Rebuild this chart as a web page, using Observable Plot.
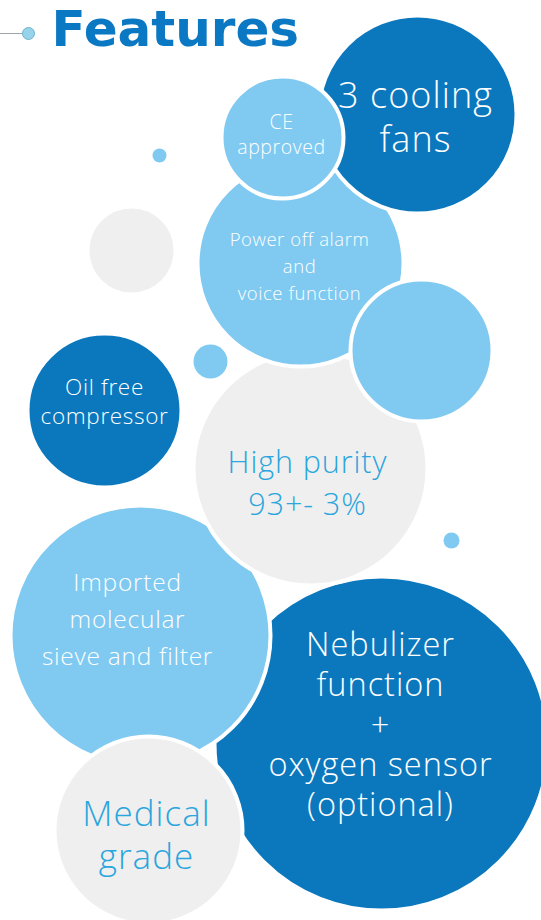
<!DOCTYPE html>
<html>
<head>
<meta charset="utf-8">
<script src="https://cdn.jsdelivr.net/npm/d3@7"></script>
<script src="https://cdn.jsdelivr.net/npm/@observablehq/plot@0.6"></script>
<style>
  html, body { margin: 0; padding: 0; background: #ffffff; }
  #chart svg { display: block; }
  #chart svg text { letter-spacing: 0.03em; }
  #chart svg g[font-family*="DejaVu"] text { letter-spacing: 0; }
</style>
</head>
<body>
<div id="chart"></div>
<script>
// ---- Data ----
const titleText = "Features";

// bubbles, in drawing order
const bubbleNames = ["grayLeft", "highPurity", "power", "cooling", "ce", "lightRight", "dotTop", "dotMid", "dotLow", "oilFree", "imported", "medical", "nebulizer"];
const bubbleX     = [131, 310, 300, 417, 282, 421, 159, 210, 451, 104, 140, 148, 381];
const bubbleY     = [250, 468, 263, 114, 137, 350, 155, 361, 540, 410, 635, 830, 743];
const bubbleR     = [44, 117, 103, 99, 61, 71, 7, 17, 8, 77, 130, 94, 167];
const bubbleTone  = ["gray", "gray", "light", "dark", "light", "light", "light", "light", "light", "dark", "light", "gray", "dark"];

// labels
const labelLines = [
  ["3 cooling", "fans"],
  ["CE", "approved"],
  ["Power off alarm", "and", "voice function"],
  ["Oil free", "compressor"],
  ["High purity", "93+- 3%"],
  ["Imported", "molecular", "sieve and filter"],
  ["Nebulizer", "function", "+", "oxygen sensor", "(optional)"],
  ["Medical", "grade"]
];
const labelX    = [415, 281, 299, 104, 307, 127, 380, 146];
const labelY    = [118, 135, 267, 402, 484, 620, 725, 836];
const labelSize = [36, 19.5, 18.5, 22.5, 30.5, 24.5, 32.5, 35];
const labelGap  = [44, 25, 27, 29, 42, 37, 40, 43];
const labelTone = ["dark", "light", "light", "dark", "gray", "light", "dark", "gray"];

const toneFill = {dark: "#0b78be", light: "#80caf1", gray: "#efefef"};
const toneText = {dark: "#ffffff", light: "#ffffff", gray: "#2aa5dd"};

// ---- Build tables ----
const bubbles = bubbleNames.map((n, i) => ({name: n, x: bubbleX[i], y: bubbleY[i], r: bubbleR[i], tone: bubbleTone[i]}));
const lines = [];
labelLines.forEach((ls, i) => {
  ls.forEach((t, j) => {
    lines.push({
      text: t,
      x: labelX[i],
      y: labelY[i] + (j - (ls.length - 1) / 2) * labelGap[i],
      size: labelSize[i],
      tone: labelTone[i]
    });
  });
});
const deco = [{x: 0, y: 33}, {x: 22, y: 33}];
const decoDot = [{x: 28, y: 33}];
const title = [{x: 51, y: 29.5, text: titleText}];

const W = 541, H = 920;
const chart = Plot.plot({
  width: W,
  height: H,
  margin: 0,
  x: {domain: [0, W], range: [0, W], axis: null},
  y: {domain: [0, H], range: [0, H], axis: null},
  r: {type: "identity"},
  style: {background: "#ffffff", fontFamily: "'Open Sans', 'Noto Sans', sans-serif"},
  marks: [
    Plot.line(deco, {x: "x", y: "y", stroke: "#9aa4ab", strokeWidth: 1.2}),
    Plot.dot(decoDot, {x: "x", y: "y", r: 6, fill: "#97d3ea", stroke: "#6ab4cf", strokeWidth: 1}),
    Plot.dot(bubbles, {
      x: "x", y: "y", r: "r",
      fill: d => toneFill[d.tone],
      stroke: "#ffffff",
      strokeWidth: d => d.r > 30 ? 4 : 0
    }),
    Plot.text(lines, {
      x: "x", y: "y", text: "text",
      fontSize: "size",
      fill: d => toneText[d.tone],
      textAnchor: "middle",
      lineAnchor: "middle",
      fontWeight: 350
    }),
    Plot.text(title, {
      x: "x", y: "y", text: "text",
      fontSize: 50, fontWeight: "bold",
      fontFamily: "'DejaVu Sans', sans-serif",
      fill: "#0b78c3",
      textAnchor: "start",
      lineAnchor: "middle"
    })
  ]
});
document.getElementById("chart").appendChild(chart);
</script>
</body>
</html>
